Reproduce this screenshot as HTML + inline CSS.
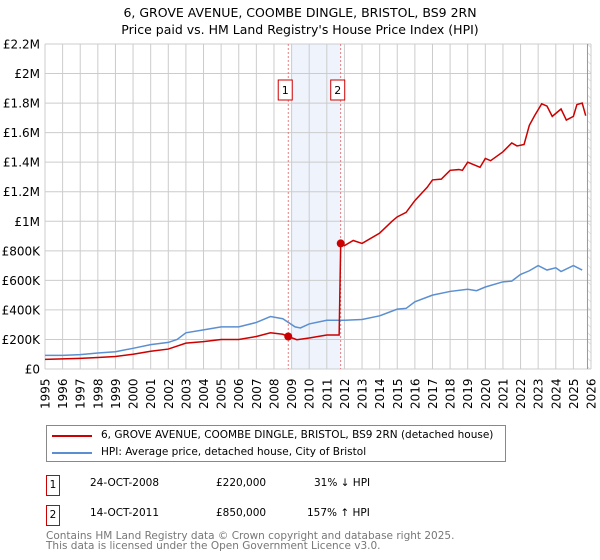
<!DOCTYPE html>
<html><head><meta charset="utf-8"><style>
body{margin:0;background:#fff;font-family:"Liberation Sans","DejaVu Sans",sans-serif;}
#wrap{position:relative;width:600px;height:560px;overflow:hidden;}
.t{position:absolute;white-space:nowrap;}
</style></head><body><div id="wrap">
<svg id="c" width="600" height="560" style="position:absolute;left:0;top:0">
<defs><pattern id="hatch" width="6" height="6" patternUnits="userSpaceOnUse" patternTransform="rotate(-45)"><line x1="0" y1="0" x2="0" y2="6" stroke="#ccc" stroke-width="1"/></pattern></defs>
<text x="300" y="17" text-anchor="middle" font-size="12.5" font-family="DejaVu Sans, sans-serif">6, GROVE AVENUE, COOMBE DINGLE, BRISTOL, BS9 2RN</text>
<text x="300" y="34" text-anchor="middle" font-size="12.5" font-family="DejaVu Sans, sans-serif">Price paid vs. HM Land Registry's House Price Index (HPI)</text>
<g id="grid"></g><g id="marks"></g>
</svg>
<div style="position:absolute;left:46px;top:425px;width:458px;height:35px;border:1px solid #888;font-family:'DejaVu Sans',sans-serif;font-size:10.5px;">
<div style="position:absolute;left:5px;top:9px;width:40px;height:2px;background:#cc0000"></div>
<div class="t" style="left:54px;top:3px">6, GROVE AVENUE, COOMBE DINGLE, BRISTOL, BS9 2RN (detached house)</div>
<div style="position:absolute;left:5px;top:26px;width:40px;height:2px;background:#5b8fd0"></div>
<div class="t" style="left:54px;top:20px">HPI: Average price, detached house, City of Bristol</div>
</div>
<div style="font-family:'DejaVu Sans',sans-serif;font-size:10.5px;">
<div class="t" style="left:46px;top:475px;width:12px;height:19px;border:1px solid #c00;text-align:center;line-height:19px">1</div>
<div class="t" style="left:90px;top:477px">24-OCT-2008</div>
<div class="t" style="left:216px;top:477px">£220,000</div>
<div class="t" style="left:314px;top:477px">31% ↓ HPI</div>
<div class="t" style="left:46px;top:505px;width:12px;height:19px;border:1px solid #c00;text-align:center;line-height:19px">2</div>
<div class="t" style="left:90px;top:507px">14-OCT-2011</div>
<div class="t" style="left:216px;top:507px">£850,000</div>
<div class="t" style="left:307px;top:507px">157% ↑ HPI</div>
<div class="t" style="left:46px;top:531px;color:#777;line-height:10px">Contains HM Land Registry data © Crown copyright and database right 2025.<br>This data is licensed under the Open Government Licence v3.0.</div>
</div>
</div>
<script>
const yTicks=[0,200000,400000,600000,800000,1000000,1200000,1400000,1600000,1800000,2000000,2200000];
const yTickLabels=["£0","£200K","£400K","£600K","£800K","£1M","£1.2M","£1.4M","£1.6M","£1.8M","£2M","£2.2M"];
const years=[1995,1996,1997,1998,1999,2000,2001,2002,2003,2004,2005,2006,2007,2008,2009,2010,2011,2012,2013,2014,2015,2016,2017,2018,2019,2020,2021,2022,2023,2024,2025,2026];
const hpiT=[1995,1996,1997,1998,1999,2000,2001,2002,2002.5,2003,2004,2005,2006,2007,2007.8,2008.5,2009.2,2009.5,2010,2011,2012,2013,2014,2015,2015.5,2016,2017,2018,2019,2019.5,2020,2021,2021.5,2022,2022.5,2023,2023.5,2024,2024.3,2025,2025.5];
const hpiV=[92,92,97,108,117,140,165,180,200,245,265,285,285,315,355,340,285,278,305,330,330,335,360,405,410,455,500,525,540,530,555,590,595,640,665,700,670,685,660,700,670];
const propT=[1995,1997,1998,1999,2000,2001,2002,2003,2004,2005,2006,2007,2007.8,2008.5,2008.81,2009.3,2010,2011,2011.7,2011.79,2012,2012.5,2013,2014,2014.7,2015,2015.5,2016,2016.7,2017,2017.5,2018,2018.5,2018.7,2019,2019.7,2020,2020.3,2021,2021.5,2021.8,2022.2,2022.5,2022.8,2023.2,2023.5,2023.8,2024.3,2024.6,2025,2025.2,2025.5,2025.7];
const propV=[65,72,78,85,100,120,135,175,185,200,200,220,245,235,220,198,210,230,230,850,835,870,850,920,1000,1030,1060,1140,1230,1280,1285,1345,1350,1345,1400,1365,1425,1410,1470,1530,1510,1520,1650,1715,1795,1780,1710,1760,1685,1710,1790,1800,1715];
const saleT=[2008.81,2011.79];const saleV=[220000,850000];const saleLabels=["1","2"];
const X0=45,X1=591,Y0=369,Y1=44;
const x=t=>X0+(t-1995)/31*(X1-X0);
const y=v=>Y0-v/2200000*(Y0-Y1);
const NS="http://www.w3.org/2000/svg";
function mk(tag,at,parent){const e=document.createElementNS(NS,tag);for(const k in at)e.setAttribute(k,at[k]);parent.appendChild(e);return e;}
const g=document.getElementById('grid'),m=document.getElementById('marks');
let r=mk('rect',{x:x(2009),y:Y1,width:x(saleT[1])-x(2009),height:Y0-Y1,fill:'#eef3fc'},g);


r=mk('rect',{x:x(2025.8),y:Y1,width:X1-x(2025.8),height:Y0-Y1,fill:'url(#hatch)'},g);


years.forEach(yr=>{const l=mk('line',{x1:x(yr),x2:x(yr),y1:Y1,y2:Y0,stroke:'#ccc','stroke-width':1},g);


const tx=mk('text',{x:0,y:0,'font-size':12,'font-family':'DejaVu Sans, sans-serif',transform:`translate(${x(yr)+4.5},${Y0+40}) rotate(-90)`},g);tx.textContent=yr;

});
yTicks.forEach((v,i)=>{const l=mk('line',{x1:X0,x2:X1,y1:y(v),y2:y(v),stroke:'#ccc','stroke-width':1},g);


const tx=mk('text',{x:40,y:y(v)+4.5,'text-anchor':'end','font-size':12,'font-family':'DejaVu Sans, sans-serif'},g);tx.textContent=yTickLabels[i];

});
const vl=mk('line',{x1:x(2025.8),x2:x(2025.8),y1:Y1,y2:Y0,stroke:'#999','stroke-width':1},g);


saleT.forEach((t,i)=>{const l=mk('line',{x1:x(t),x2:x(t),y1:Y1,y2:Y0,stroke:'#e06060','stroke-width':0.8,'stroke-dasharray':'2,2'},g);


const b=mk('rect',{x:x(t)-10,y:80,width:14,height:20,fill:'#fff',stroke:'#c00','stroke-width':1},m);


const tx=mk('text',{x:x(t)-3,y:94,'text-anchor':'middle','font-size':11,'font-family':'DejaVu Sans, sans-serif'},m);tx.textContent=saleLabels[i];

});
const hp=mk('polyline',{points:hpiT.map((t,i)=>x(t)+','+y(hpiV[i]*1000)).join(' '),fill:'none',stroke:'#5b8fd0','stroke-width':1.5},m);


const pp=mk('polyline',{points:propT.map((t,i)=>x(t)+','+y(propV[i]*1000)).join(' '),fill:'none',stroke:'#cc0000','stroke-width':1.5},m);


saleT.forEach((t,i)=>{const c=mk('circle',{cx:x(t),cy:y(saleV[i]),r:4,fill:'#cc0000'},m);

});
</script></body></html>
